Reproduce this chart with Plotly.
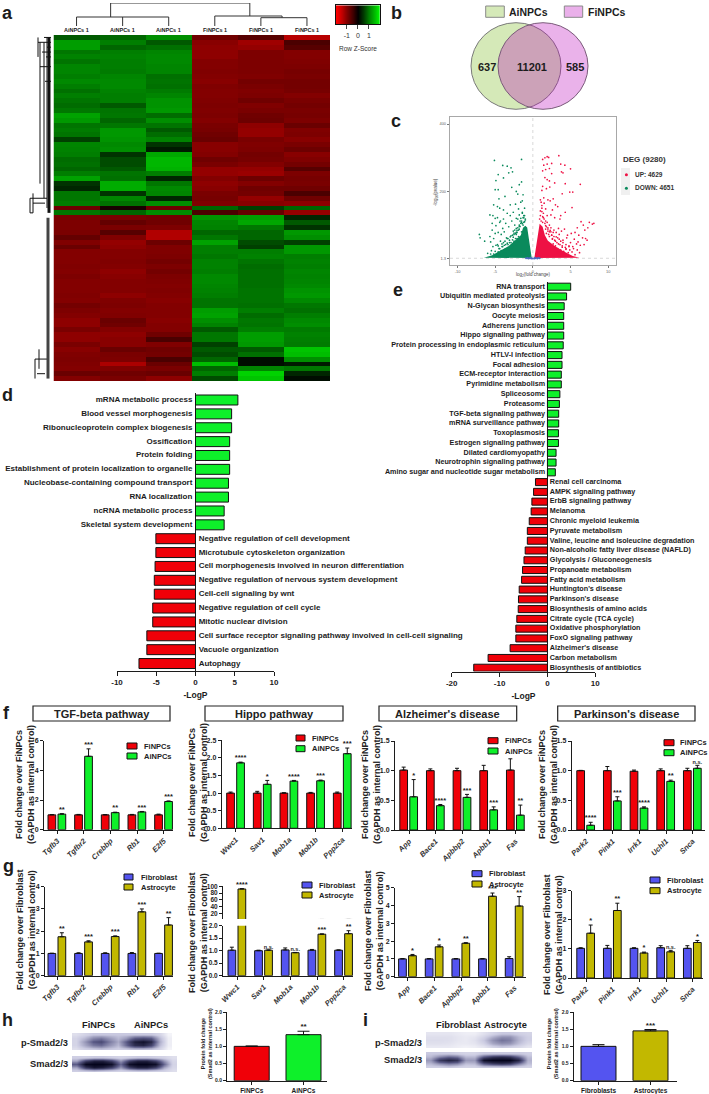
import plotly.graph_objects as go

W, H = 709, 1094
FONT = "Liberation Sans"
DARK = "#1c1c1c"
RED, GREEN, BLUE, OLIVE = "#f00008", "#0ef02a", "#5454f0", "#c2b800"

# ---------- a: heat map ----------
COLUMNS_A = ["AiNPCs 1", "AiNPCs 1", "AiNPCs 1", "FiNPCs 1", "FiNPCs 1", "FiNPCs 1"]
A1 = [.35,1.05,1.05,.6,.75,.55,.8,.8,.7,.85,.7,.5,.7,.55,.45,.6,1.1,1.0,.55,.65,.55,.25,.8,.75,.7,.45,.5,.4,.7,1.1,.2,.15,.6,.6,.7,
      -.5,.6,
      -.7,-.75,-.75,-.7,-.4,-.8,-.45,-.85,-.85,-.85,-.8,-.85,-.75,-.85,-.85,-.85,-.8,-.85,-.6,-.75,-.85,-.95,-.95,-.7,-.95,-.95,-.7,-.9,-.8,-.75,-.8,-.85,-.45,-.85]
A2 = [.4,.7,.4,.7,.75,.7,.7,.65,.8,.85,.85,.75,.7,.7,.35,.55,.6,.4,.6,1.0,1.0,.95,.85,.9,.2,.3,.3,.35,.55,.5,1.2,1.2,.2,.8,.5,
      -.1,.4,
      -.7,-.4,-.7,-.35,-.8,-1.0,-.95,-.85,-.85,-.8,-.85,-.95,-.9,-.85,-.85,-.85,-.95,-.8,-.75,-.85,-.8,-.45,-.55,-.85,-.95,-.9,-.9,-.45,-.7,-.75,-1.2,-.8,-.55,-.7]
A3 = [.9,.35,.5,.8,.85,.85,.8,.8,.5,.55,.5,.65,.8,.95,.95,1.0,.45,.9,.55,.35,.45,.75,.2,.1,1.15,1.3,1.3,1.25,.7,.15,.6,.85,.8,.15,.9,
      -.5,.9,
      -.6,-.55,-.75,-1.25,-1.25,-.5,-.8,-.8,-.75,-.6,-.75,-.6,-.75,-.8,-.85,-.8,-.85,-.9,-.85,-.85,-.85,-.9,-.85,-.85,-.55,-.3,-.8,-.55,-.6,-.3,-.45,-.7,-.45,-.95]
F1 = [-.55,-.9,-.95,-.95,-.95,-.85,-.85,-.8,-.85,-.9,-.8,-.85,-.85,-.8,-.75,-.8,-.75,-.85,-.7,-.65,-.55,-.45,-.9,-.9,-.85,-.55,-.7,-1.0,-1.0,-.85,-.95,-.9,-.7,-.65,-.8,
      .4,-.3,
      .95,.8,.75,.4,.6,1.1,.7,.7,.6,.75,.75,.7,.85,.85,.8,.75,.7,.55,.55,1.05,1.1,.9,.75,.35,.6,.6,.25,.35,.3,.4,1.35,.4,.7,.3]
F2 = [-.35,-1.1,-1.0,-.75,-.75,-.75,-.75,-.75,-.8,-.6,-.7,-.8,-.75,-.55,-.8,-.7,-.55,-.5,-.95,-1.0,-1.0,-.7,-.8,-.75,-.6,-.65,-.85,-1.0,-1.05,-.5,-.85,-.55,-.6,-1.0,-.9,
      .25,-.4,
      1.05,1.15,.6,.4,.4,.3,.25,.7,.75,.55,.45,.5,.5,.5,.5,.55,.55,.55,.5,.7,.45,.6,.55,.7,1.05,1.05,1.0,.35,.5,.05,.05,.8,1.5,1.4]
F3 = [-1.3,-.3,-.35,-.85,-.85,-.8,-.75,-.65,-.7,-.6,-.6,-.65,-.85,-.7,-.6,-.7,-.65,-.75,-.45,-.8,-.75,-.9,-.7,-.5,-.9,-.8,-.6,-.35,-.75,-.65,-.7,-.55,-.3,-.55,-.95,
      .4,-1.0,
      .15,.35,.2,1.0,.9,.25,1.0,1.0,.7,.75,.7,.8,.75,.8,.85,.95,1.0,.85,.6,.5,.7,.85,.9,.65,.75,.7,.65,1.4,1.35,.9,.1,.6,.15,.05]
ZSCORE_TICKS = [-1, 0, 1]

# ---------- b: Venn ----------
VENN_LABELS = ["AiNPCs", "FiNPCs"]
VENN_COUNTS = [637, 11201, 585]

# ---------- c: volcano ----------
UP_X = [1.3,1.6,1.9,2.1,3.45,2.5,3.7,4.25,5.0,1.45,1.9,2.2,1.3,1.7,3.8,4.0,2.5,1.6,1.9,2.2,2.9,4.3,6.3,1.3,1.8,1.2,2.25,4.9,5.3,3.9,
        1.45,2.0,2.7,1.1,1.5,2.3,3.0,3.3,1.2,1.7,2.6,5.2,3.7,4.3,1.0,1.4,1.9,2.4,2.9,3.6,6.4,8.1,7.9,7.5,7.3,6.7,6.9,5.9,7.0,6.1,
        5.6,5.1,4.6,4.2,3.8,3.4,7.2,6.6,6.0,5.5,5.0,4.5,4.0,3.5,3.1,2.8,2.4,2.2,1.9,1.7,1.5,1.3,6.8,6.3,5.8,5.3,4.8,4.4,3.9,3.6,3.2,
        2.9,2.6,5.4,4.9,4.4,4.1,3.7,3.3,3.0,2.7,5.9,5.2,6.2,4.7,4.2,3.4,2.9,3.8,3.2,5.6,2.5,2.2,2.0,1.8,1.2,1.0,
        1.1,1.3,1.6,2.0,2.3,2.7,3.1,3.5,4.0,4.4,4.8,1.5,1.8,2.2,2.6,3.0,3.4,3.9,1.7,2.1,2.5,3.3,3.7,4.3,.9,1.0,1.2,1.4,1.7,2.0,2.4,2.8]
UP_Y = [295,300,303,301,306,283,281,278,267,278,281,268,261,265,258,255,253,241,235,231,225,223,221,215,208,203,213,198,198,193,
        181,175,178,168,165,172,160,155,150,148,145,152,128,138,142,135,128,130,122,118,110,105,103,108,92,100,85,92,60,70,
        78,75,70,88,82,90,55,62,50,58,48,62,55,72,78,85,92,100,108,112,118,125,42,40,44,36,38,30,34,42,48,
        55,60,30,26,28,22,26,30,38,44,26,20,18,18,16,20,30,14,18,12,70,80,88,95,158,175,
        112,108,105,92,84,78,65,58,48,42,36,62,75,66,58,52,44,38,88,72,70,62,52,34,118,128,140,122,98,82,80,66]
DOWN_X = [-5.1,-1.5,-4.0,-3.4,-2.9,-4.6,-4.9,-3.9,-3.2,-2.7,-1.8,-1.5,-4.6,-5.0,-2.8,-2.2,-2.0,-1.3,-4.5,-3.7,-3.0,-1.6,-4.7,-4.4,-5.2,-3.9,-2.3,-1.9,-1.4,
          -5.7,-5.3,-5.0,-4.7,-4.3,-3.9,-3.4,-3.0,-2.6,-2.2,-1.8,-1.4,-1.1,-5.4,-4.9,-4.4,-4.0,-3.6,-3.2,-2.8,-2.4,-2.0,-1.6,-1.2,-7.1,-7.0,-6.4,-5.7,-5.4,-5.0,-4.6,
          -4.2,-3.8,-3.4,-3.0,-2.6,-2.2,-1.8,-1.5,-5.6,-5.2,-4.7,-4.3,-3.9,-3.5,-3.1,-2.7,-2.3,-1.9,-5.3,-4.9,-4.5,-4.1,-3.7,-3.3,-2.9,-2.5,-2.1,-5.5,-5.0,-4.6,-4.2,-3.8,-3.4,
          -3.0,-2.6,-2.2,-1.9,-6.0,-5.6,-5.2,-4.8,-4.4,-4.0,-3.6,-3.2,-2.8,-1.4,-1.2,-1.0,-1.6,-2.0,-2.4,-1.3,-1.7,-2.1,-1.1,
          -1.2,-1.4,-1.7,-2.1,-2.5,-2.9,-3.3,-3.7,-4.1,-4.6,-1.5,-1.9,-2.3,-2.7,-3.1,-3.6,-4.0,-1.8,-2.2,-2.6,-3.4,-3.8,-4.4,-1.0,-1.1,-1.3,-1.5,-1.8,-2.2,-2.5]
DOWN_Y = [292,295,277,275,270,250,232,240,255,258,220,228,205,205,212,200,192,190,178,185,160,168,155,150,160,145,162,148,172,
          130,128,120,122,112,118,135,128,138,120,130,138,150,105,98,108,90,105,95,112,100,118,105,122,72,62,52,66,85,75,78,
          72,80,60,65,82,90,100,108,50,60,42,52,48,62,55,70,75,85,36,40,30,36,28,42,48,52,60,24,22,20,24,20,26,
          32,38,42,50,16,14,14,14,12,14,16,22,28,135,128,115,120,92,85,100,112,78,110,
          108,104,96,84,76,68,60,52,44,38,80,66,60,56,48,42,36,88,72,64,46,40,30,118,128,122,112,96,78,72]
WEDGE_UP_X = [.2,.35,.5,.8,.9,1.3,1.6,2.0,2.9,4.0,5.3,6.2,.2]
WEDGE_UP_Y = [2,25,53,90,104,95,70,53,38,23,8,3,2]
WEDGE_DN_X = [-.15,-.3,-.45,-.75,-1.0,-1.3,-1.6,-2.4,-3.2,-4.4,-5.4,-6.5,-.15]
WEDGE_DN_Y = [2,25,55,93,98,92,70,53,38,23,10,3,2]
NS_X = [-.9,-.6,-.4,-.2,0,.2,.4,.6,.9,-.7,.7,-.3,.3]
NS_Y = [1,.5,1,.4,.8,.4,1,.6,1,2,2,2.5,2.5]
DEG_LABELS = ["UP: 4629", "DOWN: 4651"]

# ---------- d ----------
D_LABELS = ["mRNA metabolic process","Blood vessel morphogenesis","Ribonucleoprotein complex biogenesis","Ossification",
            "Protein folding","Establishment of protein localization to organelle","Nucleobase-containing compound transport",
            "RNA localization","ncRNA metabolic process","Skeletal system development",
            "Negative regulation of cell development","Microtubule cytoskeleton organization",
            "Cell morphogenesis involved in neuron differentiation","Negative regulation of nervous system development",
            "Cell-cell signaling by wnt","Negative regulation of cell cycle","Mitotic nuclear division",
            "Cell surface receptor signaling pathway involved in cell-cell signaling","Vacuole organization","Autophagy"]
D_VALUES = [5.4,4.6,4.6,4.35,4.35,4.35,4.2,4.2,3.65,3.65,-5.05,-5.05,-5.15,-5.25,-5.25,-5.45,-5.45,-6.2,-6.2,-7.2]

# ---------- e ----------
E_LABELS = ["RNA transport","Ubiquitin mediated proteolysis","N-Glycan biosynthesis","Oocyte meiosis","Adherens junction",
            "Hippo signaling pathway","Protein processing in endoplasmic reticulum","HTLV-I infection","Focal adhesion",
            "ECM-receptor interaction","Pyrimidine metabolism","Spliceosome","Proteasome","TGF-beta signaling pathway",
            "mRNA surveillance pathway","Toxoplasmosis","Estrogen signaling pathway","Dilated cardiomyopathy",
            "Neurotrophin signaling pathway","Amino sugar and nucleotide sugar metabolism",
            "Renal cell carcinoma","AMPK signaling pathway","ErbB signaling pathway","Melanoma","Chronic myeloid leukemia",
            "Pyruvate metabolism","Valine, leucine and isoleucine degradation","Non-alcoholic fatty liver disease (NAFLD)",
            "Glycolysis / Gluconeogenesis","Propanoate metabolism","Fatty acid metabolism","Huntington's disease",
            "Parkinson's disease","Biosynthesis of amino acids","Citrate cycle (TCA cycle)","Oxidative phosphorylation",
            "FoxO signaling pathway","Alzheimer's disease","Carbon metabolism","Biosynthesis of antibiotics"]
E_VALUES = [4.86,4.0,3.5,3.4,3.4,3.4,3.3,3.05,3.05,2.9,2.9,2.6,2.5,2.35,2.35,2.3,2.3,1.8,1.8,1.65,
            -2.5,-2.9,-3.25,-3.4,-3.8,-4.2,-4.2,-4.65,-4.9,-5.2,-5.4,-5.9,-6.05,-6.1,-6.4,-6.6,-6.6,-7.8,-12.4,-15.4]

# ---------- f ----------
F1_GENES = ["Tgfb3","Tgfbr2","Crebbp","Rb1","E2f5"]
F1_FI = [1,1,1,1,1];            F1_FI_E = [.02,.03,.02,.03,.05]
F1_AI = [1.05,4.95,1.15,1.2,1.9]; F1_AI_E = [.03,.5,.03,.03,.04]
F1_SIG = ["**","***","**","***","***"]
F2_GENES = ["Wwc1","Sav1","Mob1a","Mob1b","Ppp2ca"]
F2_FI = [1,1,1,1,1];            F2_FI_E = [.03,.05,.01,.02,.03]
F2_AI = [1.86,1.25,1.34,1.35,2.12]; F2_AI_E = [.02,.11,.02,.02,.16]
F2_SIG = ["****","*","****","***","***"]
F3_GENES = ["App","Bace1","Apbbp2","Apbb1","Fas"]
F3_FI = [1.01,1.0,1.0,1.0,1.01]; F3_FI_E = [.05,.03,.04,.09,.19]
F3_AI = [.56,.41,.55,.34,.25];   F3_AI_E = [.29,.02,.05,.05,.17]
F3_SIG = ["*","****","***","***","**"]
F4_GENES = ["Park2","Pink1","Irrk1","Uchl1","Snca"]
F4_FI = [1.0,1.0,.99,1.0,1.0];   F4_FI_E = [.005,.07,.02,.03,.04]
F4_AI = [.08,.49,.37,.82,1.04];  F4_AI_E = [.05,.07,.02,.02,.05]
F4_SIG = ["****","***","****","**","n.s."]

# ---------- g ----------
G1_FB = [1,1,1,1,1];             G1_FB_E = [.01,.03,.03,.04,.01]
G1_AS = [1.75,1.52,1.76,2.87,2.28]; G1_AS_E = [.18,.05,.03,.13,.33]
G1_SIG = ["**","***","***","***","**"]
G2_FB = [1.02,1.0,1.03,1.02,1.02]; G2_FB_E = [.12,.02,.08,.03,.01]
G2_AS = [92,1.02,.92,1.66,1.68];   G2_AS_E = [1,.01,.01,.01,.12]
G2_SIG = ["****","n.s.","n.s.","***","**"]
G3_FB = [1,1,1,1,1.02];          G3_FB_E = [.02,.02,.02,.02,.1]
G3_AS = [1.18,1.68,1.88,4.52,3.97]; G3_AS_E = [.07,.1,.03,.18,.53]
G3_SIG = ["*","*","**","***","**"]
G4_FB = [1.02,1.02,1.02,1.04,1.02]; G4_FB_E = [.02,.1,.02,.07,.09]
G4_AS = [1.54,2.32,.86,.9,1.22];    G4_AS_E = [.28,.25,.03,.05,.07]
G4_SIG = ["*","**","*","n.s.","*"]

# ---------- h / i ----------
H_NAMES = ["FiNPCs","AiNPCs"];     H_VALUES = [1.0,1.34];  H_ERR = [.01,.1]
I_NAMES = ["Fibroblasts","Astrocytes"]; I_VALUES = [1.0,1.45]; I_ERR = [.05,.04]
BLOT_H_P = [[.15,.2,.25,.25,.25,.25,.25,.25,.25,.25,.2,.05],
            [.2,.3,.45,.5,.4,.3,.4,.6,.65,.6,.3,.08],
            [.2,.4,.62,.68,.5,.35,.6,.88,.95,.85,.35,.08],
            [.2,.35,.5,.55,.42,.3,.55,.8,.85,.7,.3,.08],
            [.15,.22,.25,.28,.25,.22,.25,.3,.3,.28,.2,.05]]
BLOT_H_S = [[.22,.22,.25,.25,.22,.2,.22,.25,.25,.22,.2,.15],
            [.35,.7,.85,.85,.7,.4,.7,.85,.85,.7,.4,.18],
            [.6,.98,1,1,.95,.55,.95,1,1,.95,.55,.2],
            [.35,.75,.9,.85,.7,.4,.7,.85,.85,.7,.35,.18],
            [.22,.25,.28,.25,.22,.2,.22,.25,.25,.22,.2,.15]]
BLOT_I_P = [[.12,.12,.12,.1,.08,.08,.14,.2,.25,.25,.22,.2],
            [.15,.15,.15,.12,.1,.12,.2,.32,.42,.42,.3,.22],
            [.16,.16,.15,.12,.1,.14,.25,.42,.52,.48,.32,.22],
            [.14,.14,.13,.1,.1,.12,.2,.35,.42,.4,.28,.18],
            [.1,.1,.1,.08,.06,.08,.12,.2,.25,.22,.18,.12]]
BLOT_I_S = [[.25,.25,.25,.22,.2,.2,.25,.25,.25,.25,.25,.22],
            [.3,.45,.55,.5,.3,.3,.6,.75,.8,.75,.55,.28],
            [.4,.75,.85,.78,.4,.4,.95,1,1,1,.85,.32],
            [.3,.42,.5,.45,.28,.3,.6,.72,.78,.72,.5,.28],
            [.22,.22,.25,.22,.2,.2,.25,.25,.25,.25,.22,.2]]

fig = go.Figure()
layout = {}
shapes, anns = [], []
_n = [1]


def axes(x0, x1, y_top, y_bot, xr, yr, xopt=None, yopt=None):
    _n[0] += 1
    n = _n[0]
    base = dict(showgrid=False, zeroline=False, showticklabels=False, ticks="", showline=False)
    xa = dict(base, domain=[x0 / W, x1 / W], range=xr, anchor=f"y{n}")
    ya = dict(base, domain=[1 - y_bot / H, 1 - y_top / H], range=yr, anchor=f"x{n}")
    xa.update(xopt or {})
    ya.update(yopt or {})
    layout[f"xaxis{n}"] = xa
    layout[f"yaxis{n}"] = ya
    return f"x{n}", f"y{n}"


def txt(x, y, s, size=8, anchor="center", bold=True, angle=0, color=DARK, family=FONT):
    anns.append(dict(x=x / W, y=1 - y / H, xref="paper", yref="paper", text=f"<b>{s}</b>" if bold else str(s),
                     showarrow=False, xanchor=anchor, yanchor="middle", textangle=angle,
                     font=dict(size=size, family=family, color=color)))


def rect(x0, y0, x1, y1, fill="rgba(0,0,0,0)", line=DARK, w=1, layer="above"):
    shapes.append(dict(type="rect", xref="paper", yref="paper", x0=x0 / W, x1=x1 / W, y0=1 - y1 / H, y1=1 - y0 / H,
                       fillcolor=fill, line=dict(color=line, width=w), layer=layer))


# letters
for s, x, y in [("a", 7, 13), ("b", 396, 13), ("c", 396, 121), ("d", 7, 395), ("e", 398, 290),
                ("f", 6, 713), ("g", 8, 866), ("h", 7, 1020), ("i", 365, 1020)]:
    txt(x, y, s, size=18)

# ---- a ----
xa, ya = axes(53.5, 330, 35, 381, [-.5, 5.5], [len(A1) - .5, -.5])
RB = [[0, "#e00000"], [.09, "#b80000"], [.23, "#840000"], [.37, "#680000"], [.5, "#000000"],
      [.63, "#006a00"], [.77, "#008a00"], [.91, "#00b800"], [1, "#00e000"]]
RB_KEY = [[0, "#ff0000"], [.5, "#000000"], [1, "#00ff00"]]
rows = [list(r) for r in zip(A1, A2, A3, F1, F2, F3)]
fig.add_trace(go.Heatmap(z=rows, colorscale=RB, zmin=-1.6, zmax=1.6, showscale=False, xaxis=xa, yaxis=ya, hoverinfo="skip"))
for i, c in enumerate(COLUMNS_A):
    txt(76.7 + 46 * i, 30, c, size=5.5)
# top dendrogram (column index vs height)
xa, ya = axes(53.5, 330, 3, 26, [-.5, 5.5], [0, 23])
DX = [.74,.74,None,.74,3.76,None,3.76,3.76,None,0,0,None,0,2,None,1,1,None,2,2,None,3,3,None,3,4.46,None,4.46,4.46,None,4,4,None,4,5,None,5,5]
DY = [9,23,None,23,23,None,23,10,None,0,9,None,9,9,None,0,9,None,0,9,None,0,10,None,10,10,None,10,8.3,None,0,8.3,None,8.3,8.3,None,0,8.3]
fig.add_trace(go.Scatter(x=DX, y=DY, mode="lines", line=dict(color="#333", width=1), xaxis=xa, yaxis=ya, hoverinfo="skip"))
# left dendrogram (height vs row)
xa, ya = axes(28, 53, 35, 381, [25, 0], [len(A1) - .5, -.5])
LX = [6,6,None,9,9,None,13,13,None,15,15,None,2,9,None,2,6,None,2,7,None,2,13,None,2,8,None,2,15,None,2,11,None,
      20,20,None,23,23,None,23,6,None,23,20,None,14,14,None,18,18,None,18,6,None,16,8,None,20,8]
LY = [0,35,None,1,33,None,1,30,None,0,4,None,0,0,None,2,2,None,4,4,None,6,6,None,9,9,None,1,1,None,3,3,None,
      32,36,None,33,36,None,33,33,None,36,36,None,64,68,None,66,70,None,66,66,None,69,69,None,34,34]
fig.add_trace(go.Scatter(x=LX, y=LY, mode="lines", line=dict(color="#111", width=1), xaxis=xa, yaxis=ya, hoverinfo="skip"))
fig.add_trace(go.Scatter(x=[4, 4], y=[0, 36], mode="lines", line=dict(color="#111", width=3), xaxis=xa, yaxis=ya, hoverinfo="skip"))
fig.add_trace(go.Scatter(x=[5, 5], y=[37, 70], mode="lines", line=dict(color="#444", width=3), xaxis=xa, yaxis=ya, hoverinfo="skip"))
# colour key
xa, ya = axes(335.7, 380, 5.3, 24.3, [-2, 2], [0, 1],
              xopt=dict(showline=True, mirror=True, linecolor="#111", ticks="outside", ticklen=4, tickcolor="#444",
                        tickvals=ZSCORE_TICKS, ticktext=["-1", "0", "1"], showticklabels=True, tickfont=dict(size=7, family=FONT, color="#333")),
              yopt=dict(showline=True, mirror=True, linecolor="#111"))
KEY = [-2, -1.5, -1, -.5, 0, .5, 1, 1.5, 2]
fig.add_trace(go.Heatmap(x=KEY, y=[0, 1], z=[KEY, KEY], colorscale=RB_KEY, zmin=-2, zmax=2, zsmooth="best", showscale=False, xaxis=xa, yaxis=ya, hoverinfo="skip"))
txt(358, 48.7, "Row Z-Score", size=6.5, bold=False, color="#333")

# ---- b ----
xa, ya = axes(465, 595, 20, 112, [465, 595], [112, 20])
VENN_X = [516, 543]
VENN_R = 45
shapes.append(dict(type="circle", xref=xa, yref=ya, x0=VENN_X[0]-VENN_R, x1=VENN_X[0]+VENN_R, y0=22.7, y1=109.3,
                   fillcolor="#d5e9b8", line=dict(color="#7a7a7a", width=1)))
shapes.append(dict(type="circle", xref=xa, yref=ya, x0=VENN_X[1]-VENN_R, x1=VENN_X[1]+VENN_R, y0=22.7, y1=109.3,
                   fillcolor="rgba(185,0,185,.3)", line=dict(color="#7a5a7a", width=1)))
rect(485.7, 6, 504.3, 17.3, fill="#d5e9b8", line="#8a8a8a")
rect(564.3, 6, 582.7, 17.3, fill="#eab0ea", line="#8a8a8a")
txt(507, 11.7, VENN_LABELS[0], size=10.5, anchor="left")
txt(585.7, 11.7, VENN_LABELS[1], size=10.5, anchor="left")
for x, v in zip([486.7, 531.7, 574.7], VENN_COUNTS):
    txt(x, 67, v, size=11)

# ---- c ----
xa, ya = axes(450, 615.7, 117, 265, [-11, 11], [-18.7, 421],
              xopt=dict(showline=True, mirror=True, linecolor="#a8a8a8", linewidth=1.2, ticks="outside", ticklen=2, tickcolor="#777",
                        tickvals=[-10,-5,0,5,10], ticktext=["-10","-5","0","5","10"], showticklabels=True, tickfont=dict(size=4, family=FONT, color="#666")),
              yopt=dict(showline=True, mirror=True, linecolor="#a8a8a8", linewidth=1.2, ticks="outside", ticklen=2, tickcolor="#777",
                        tickvals=[1.3,200,400], ticktext=["1.3","200","400"], showticklabels=True, tickfont=dict(size=4, family=FONT, color="#666")))
for X_, Y_ in [([0, 0], [-18.7, 421]), ([-11, 11], [1.3, 1.3])]:
    fig.add_trace(go.Scatter(x=X_, y=Y_, mode="lines", line=dict(color="#d8d8d8", width=1, dash="dot"), xaxis=xa, yaxis=ya, hoverinfo="skip"))
fig.add_trace(go.Scatter(x=WEDGE_DN_X, y=WEDGE_DN_Y, mode="lines", fill="toself", fillcolor="#0a8a5c", line=dict(width=0, color="#0a8a5c"), xaxis=xa, yaxis=ya, hoverinfo="skip"))
fig.add_trace(go.Scatter(x=WEDGE_UP_X, y=WEDGE_UP_Y, mode="lines", fill="toself", fillcolor="#ee1144", line=dict(width=0, color="#ee1144"), xaxis=xa, yaxis=ya, hoverinfo="skip"))
fig.add_trace(go.Scatter(x=DOWN_X, y=DOWN_Y, mode="markers", marker=dict(size=1.7, color="#0a8a5c"), xaxis=xa, yaxis=ya, hoverinfo="skip"))
fig.add_trace(go.Scatter(x=UP_X, y=UP_Y, mode="markers", marker=dict(size=1.7, color="#ee1144"), xaxis=xa, yaxis=ya, hoverinfo="skip"))
fig.add_trace(go.Scatter(x=NS_X, y=NS_Y, mode="markers", marker=dict(size=2, color="#4a6ac0"), xaxis=xa, yaxis=ya, hoverinfo="skip"))
txt(533, 275, "log<sub>2</sub>(fold change)", size=4.5, bold=False, color="#444")
txt(436, 192, "-log<sub>10</sub>(pvalue)", size=4.5, bold=False, angle=-90, color="#444")
txt(621, 159, "DEG (9280)", size=8, anchor="left", bold=True, color="#333")
rect(621, 168, 630, 181, fill="#f0f0f0", line="#f0f0f0", w=0, layer="below")
rect(621, 181, 630, 195, fill="#f0f0f0", line="#f0f0f0", w=0, layer="below")
xa2, ya2 = axes(621, 630, 168, 195, [0, 1], [2, 0])
fig.add_trace(go.Scatter(x=[.6, .6], y=[.5, 1.5], mode="markers", marker=dict(size=3, color=["#ee1144", "#0a8a5c"]), xaxis=xa2, yaxis=ya2, hoverinfo="skip"))
txt(633, 175, DEG_LABELS[0], size=6.5, anchor="left", color="#333")
txt(633, 188, DEG_LABELS[1], size=6.5, anchor="left", color="#333")


# ---- d, e ----
def pathway(labels, values, x0, x1, xr, top, bot, c0, step, xticks, size, pad, barw):
    yr = [(bot - c0) / step, (top - c0) / step]
    xa, ya = axes(x0, x1, top, bot, xr, yr,
                  xopt=dict(showline=True, linecolor=DARK, linewidth=1, ticks="outside", ticklen=4, tickcolor=DARK,
                            tickvals=xticks, ticktext=[str(t) for t in xticks], showticklabels=True, zeroline=True, zerolinecolor=DARK, zerolinewidth=1,
                            tickfont=dict(size=8, family=FONT, color=DARK, weight="bold"),
                            title=dict(text="<b>-LogP</b>", standoff=5, font=dict(size=8.5, family=FONT, color=DARK))))
    idx = list(range(len(labels)))
    colors = [GREEN if v > 0 else RED for v in values]
    fig.add_trace(go.Bar(x=values, y=idx, orientation="h", width=barw, marker=dict(color=colors, line=dict(color="#111", width=1)),
                         xaxis=xa, yaxis=ya, hoverinfo="skip"))
    pos = [i for i in idx if values[i] > 0]
    neg = [i for i in idx if values[i] < 0]
    fig.add_trace(go.Scatter(x=[-pad] * len(pos), y=pos, text=[labels[i] for i in pos], mode="text", textposition="middle left",
                             textfont=dict(size=size, family=FONT, color=DARK, weight="bold"), cliponaxis=False, xaxis=xa, yaxis=ya, hoverinfo="skip"))
    fig.add_trace(go.Scatter(x=[pad] * len(neg), y=neg, text=[labels[i] for i in neg], mode="text", textposition="middle right",
                             textfont=dict(size=size, family=FONT, color=DARK, weight="bold"), cliponaxis=False, xaxis=xa, yaxis=ya, hoverinfo="skip"))


pathway(D_LABELS, D_VALUES, 117, 274, [-10, 10], 393, 670.7, 400, 13.87, [-10,-5,0,5,10], 8, .4, .72)
pathway(E_LABELS, E_VALUES, 451.7, 595.3, [-20, 10], 282, 671.5, 286.7, 9.77, [-20,-10,0,10], 7.2, .5, .72)

BW, OFF1, OFF2, STEP = .29, -.345, .03, 26.67


def grouped(axis_px, c0, end_px, top, bot, ymax, yticks, genes, a, ae, b, be, sig, ca, cb, ytext=None):
    xr = [(axis_px - c0) / STEP, (end_px - c0) / STEP]
    tfont = dict(size=7, family=FONT, color=DARK, weight="bold")
    xopt = dict(showline=True, linecolor=DARK, linewidth=1, ticks="outside", ticklen=3, tickcolor=DARK,
                tickvals=list(range(len(genes))), ticktext=genes, showticklabels=True, tickangle=-45,
                tickfont=dict(size=7.5, family=FONT, color="#333", style="italic", weight="bold"))
    yopt = dict(showline=True, linecolor=DARK, linewidth=1, ticks="outside", ticklen=3, tickcolor=DARK,
                tickvals=yticks, ticktext=ytext or [str(t) for t in yticks], showticklabels=True, tickfont=tfont)
    xa, ya = axes(axis_px, end_px, top, bot, xr, [0, ymax], xopt, yopt)
    add_bars(xa, ya, genes, a, ae, b, be, sig, ca, cb)
    return xr


def add_bars(xa, ya, genes, a, ae, b, be, sig, ca, cb, keep=None):
    idx = list(range(len(genes)))
    for vals, errs, off, col in [(a, ae, OFF1, ca), (b, be, OFF2, cb)]:
        fig.add_trace(go.Bar(x=idx, y=vals, width=BW, offset=off, marker=dict(color=col, line=dict(color="#111", width=1)),
                             error_y=dict(type="data", array=errs, arrayminus=[0] * len(errs), color="#111", thickness=1, width=2),
                             xaxis=xa, yaxis=ya, hoverinfo="skip"))
    keep = keep if keep is not None else idx
    stars = [sig[i] for i in keep]
    fig.add_trace(go.Scatter(x=[i + OFF2 + BW / 2 for i in keep], y=[b[i] + be[i] for i in keep], text=stars, mode="text",
                             textposition="top center", cliponaxis=False,
                             textfont=dict(size=[5.5 if s == "n.s." else 7.5 for s in stars], family=FONT, color=DARK, weight="bold"),
                             xaxis=xa, yaxis=ya, hoverinfo="skip"))


def legend(x0, x1, tx, ys, names, cols):
    for y, n, c in zip(ys, names, cols):
        rect(x0, y - 3, x1, y + 3, fill=c, line="#111", w=1)
        txt(tx, y, n, size=7.5, anchor="left", color="#222")


def ytitle(x, y, first):
    txt(x, y, f"Fold change over {first}<br>(GAPDH as internal control)", size=9, angle=-90, color="#222")


FA = ["FiNPCs", "AiNPCs"]
FB = ["Fibroblast", "Astrocyte"]
# ---- f ----
for title, x0, x1 in [("TGF-beta pathway", 33, 170), ("Hippo pathway", 205, 343), ("Alzheimer's disease", 379, 516.7), ("Parkinson's disease", 557.7, 695)]:
    rect(x0, 706, x1, 721, fill="#ffffff", line="#222", w=1.2)
    txt((x0 + x1) / 2, 713.5, title, size=11, color="#222")

grouped(44, 57.2, 173, 740.7, 829.7, 6, [0, 2, 4, 6], F1_GENES, F1_FI, F1_FI_E, F1_AI, F1_AI_E, F1_SIG, RED, GREEN)
legend(127, 137, 142, [746, 756], FA, [RED, GREEN]); ytitle(25, 785, "FiNPCs")
grouped(221.7, 235.9, 352, 740.3, 828.3, 2.5, [0, .5, 1, 1.5, 2, 2.5], F2_GENES, F2_FI, F2_FI_E, F2_AI, F2_AI_E, F2_SIG, RED, GREEN,
        ["0.0", "0.5", "1.0", "1.5", "2.0", "2.5"])
legend(296, 305, 310, [738, 748.7], FA, [RED, GREEN]); ytitle(198, 783, "FiNPCs")
grouped(395, 409, 525, 741, 830, 1.5, [0, .5, 1, 1.5], F3_GENES, F3_FI, F3_FI_E, F3_AI, F3_AI_E, F3_SIG, RED, GREEN, ["0.0", "0.5", "1.0", "1.5"])
legend(488, 498, 503, [740.7, 751], FA, [RED, GREEN]); ytitle(371, 785, "FiNPCs")
grouped(571.7, 586, 705, 741, 830, 1.5, [0, .5, 1, 1.5], F4_GENES, F4_FI, F4_FI_E, F4_AI, F4_AI_E, F4_SIG, RED, GREEN, ["0.0", "0.5", "1.0", "1.5"])
legend(664, 674, 678, [742.7, 752.7], FA, [RED, GREEN]); ytitle(548, 785, "FiNPCs")

# ---- g ----
grouped(45, 57.2, 173, 886.7, 975.7, 4, [0, 1, 2, 3, 4], F1_GENES, G1_FB, G1_FB_E, G1_AS, G1_AS_E, G1_SIG, BLUE, OLIVE)
legend(124, 133, 139, [877, 887], FB, [BLUE, OLIVE]); ytitle(26, 930, "Fibroblast")
# g2: broken axis
keep_low = [1, 2, 3, 4]
xr = [(223 - 237.2) / STEP, (353 - 237.2) / STEP]
tfont2 = dict(size=6.5, family=FONT, color=DARK, weight="bold")
xa, ya = axes(223, 353, 925.7, 975.7, xr, [0, 2],
              dict(showline=True, linecolor=DARK, linewidth=1, ticks="outside", ticklen=3, tickcolor=DARK,
                   tickvals=list(range(5)), ticktext=F2_GENES, showticklabels=True, tickangle=-45,
                   tickfont=dict(size=7.5, family=FONT, color="#333", style="italic", weight="bold")),
              dict(showline=True, linecolor=DARK, linewidth=1, ticks="outside", ticklen=3, tickcolor=DARK,
                   tickvals=[0, .5, 1, 1.5, 2], ticktext=["0.0", "0.5", "1.0", "1.5", "2.0"], showticklabels=True, tickfont=tfont2))
add_bars(xa, ya, F2_GENES, G2_FB, G2_FB_E, G2_AS, G2_AS_E, G2_SIG, BLUE, OLIVE, keep=keep_low)
xa, ya = axes(223, 353, 886.3, 919, xr, [3.1, 100],
              None,
              dict(showline=True, linecolor=DARK, linewidth=1, ticks="outside", ticklen=3, tickcolor=DARK,
                   tickvals=[20, 40, 60, 80, 100], ticktext=["20","40","60","80","100"], showticklabels=True, tickfont=tfont2))
add_bars(xa, ya, F2_GENES, G2_FB, G2_FB_E, G2_AS, G2_AS_E, G2_SIG, BLUE, OLIVE, keep=[0])
legend(302, 312, 317, [885, 895], FB, [BLUE, OLIVE]); ytitle(198, 933, "Fibroblast")
grouped(395, 407.8, 526, 887.7, 976.7, 5, [0, 1, 2, 3, 4, 5], F3_GENES, G3_FB, G3_FB_E, G3_AS, G3_AS_E, G3_SIG, BLUE, OLIVE)
legend(472, 482, 487, [873.7, 884], FB, [BLUE, OLIVE]); ytitle(374, 930, "Fibroblast")
grouped(571.7, 586, 703, 890.7, 978, 3, [0, 1, 2, 3], F4_GENES, G4_FB, G4_FB_E, G4_AS, G4_AS_E, G4_SIG, BLUE, OLIVE)
legend(650, 660, 665, [880, 890.7], FB, [BLUE, OLIVE]); ytitle(553, 935, "Fibroblast")

# ---- h, i ----
BLOT = [[0, "#ffffff"], [.25, "#c9c9e0"], [.6, "#5a5a86"], [1, "#04041c"]]


def blot(z, x0, x1, y0, y1):
    xa, ya = axes(x0, x1, y0, y1, [-.5, len(z[0]) - .5], [len(z) - .5, -.5])
    fig.add_trace(go.Heatmap(z=z, colorscale=BLOT, zmin=0, zmax=1, zsmooth="best", showscale=False, xaxis=xa, yaxis=ya, hoverinfo="skip"))


blot(BLOT_H_P, 72, 172, 1033, 1050)
blot(BLOT_H_S, 72, 177, 1056, 1072)
blot(BLOT_I_P, 426, 532, 1032, 1048)
blot(BLOT_I_S, 426, 532, 1052, 1068)
for x, y, s, a in [(98, 1025, "FiNPCs", "center"), (151, 1025, "AiNPCs", "center"), (70, 1043, "p-Smad2/3", "right"), (70, 1064, "Smad2/3", "right"),
                   (458, 1025, "Fibroblast", "center"), (505, 1025, "Astrocyte", "center"), (424.5, 1043, "p-Smad2/3", "right"), (424.5, 1060, "Smad2/3", "right")]:
    txt(x, y, s, size=9.3, anchor=a)


def protein(axis_px, end_px, c0, c1, names, vals, errs, cols, sig):
    bw = 35
    step = c1 - c0
    xr = [(axis_px - c0) / step, (end_px - c0) / step]
    xa, ya = axes(axis_px, end_px, 1012, 1080.7, xr, [0, 2],
                  dict(showline=True, linecolor=DARK, linewidth=1, ticks="outside", ticklen=3, tickcolor=DARK, tickvals=[0, 1], ticktext=names,
                       showticklabels=True, tickfont=dict(size=6.5, family=FONT, color=DARK, weight="bold")),
                  dict(showline=True, linecolor=DARK, linewidth=1, ticks="outside", ticklen=3, tickcolor=DARK, tickvals=[0, .5, 1, 1.5, 2],
                       ticktext=["0.0", "0.5", "1.0", "1.5", "2.0"], showticklabels=True, tickfont=dict(size=5, family=FONT, color=DARK, weight="bold")))
    fig.add_trace(go.Bar(x=[0, 1], y=vals, width=bw / step, marker=dict(color=cols, line=dict(color="#111", width=1)),
                         error_y=dict(type="data", array=errs, arrayminus=[0, 0], color="#111", thickness=1, width=6), xaxis=xa, yaxis=ya, hoverinfo="skip"))
    fig.add_trace(go.Scatter(x=[1], y=[vals[1] + errs[1]], text=[sig], mode="text", textposition="top center", cliponaxis=False,
                             textfont=dict(size=8, family=FONT, color=DARK, weight="bold"), xaxis=xa, yaxis=ya, hoverinfo="skip"))


protein(227, 327, 251.7, 303.5, H_NAMES, H_VALUES, H_ERR, [RED, GREEN], "**")
txt(206, 1044, "Protein fold change<br>(Smad2 as internal control)", size=5.5, angle=-90)
protein(573.6, 677, 598.5, 650.5, I_NAMES, I_VALUES, I_ERR, [BLUE, OLIVE], "***")
txt(552, 1044, "Protein fold change<br>(Smad2 as internal control)", size=5.5, angle=-90)

layout.update(width=W, height=H, autosize=False, margin=dict(l=0, r=0, t=0, b=0, autoexpand=False), showlegend=False, barmode="overlay",
              paper_bgcolor="white", plot_bgcolor="rgba(0,0,0,0)", shapes=shapes, annotations=anns, font=dict(family=FONT, color=DARK))
fig.update_layout(**layout)
fig.write_html("out.html", config={"displayModeBar": False},
               post_script="document.body.style.margin='0';document.body.style.overflow='hidden';")
